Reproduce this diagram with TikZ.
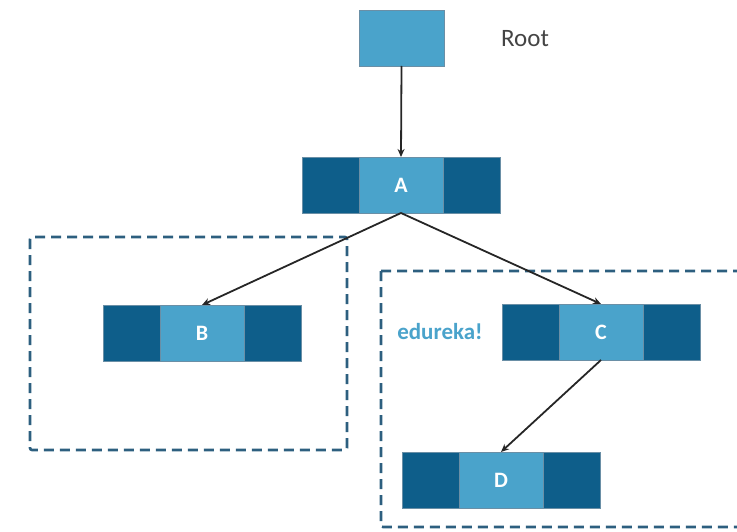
\documentclass[tikz,border=0pt]{standalone}
\usepackage{fontspec}
\setmainfont{Carlito}
\usetikzlibrary{arrows.meta}
\definecolor{cellDark}{HTML}{0E5E8A}
\definecolor{cellLight}{HTML}{4AA3CB}
\definecolor{frameBlue}{HTML}{2D5F7F}
\definecolor{cellEdge}{HTML}{6A8FA6}
\definecolor{rootText}{HTML}{444444}
\tikzset{
  cell/.style={draw=cellEdge, line width=0.6pt, minimum height=56pt, inner sep=0pt, outer sep=0pt},
  side/.style={cell, fill=cellDark, minimum width=57pt},
  mid/.style={cell, fill=cellLight, minimum width=84pt, text=white, font=\fontsize{22}{24}\selectfont\bfseries},
  link/.style={draw=black!85, line width=1.8pt, -{Stealth[length=8pt,width=7pt]}},
  frame/.style={draw=frameBlue, line width=2.6pt, dash pattern=on 10pt off 6pt, rounded corners=2pt}
}
\begin{document}
\begin{tikzpicture}[x=1pt,y=-1pt]
\useasboundingbox (0,0) rectangle (737,532);
% dashed group frames
\path[frame] (30,237) rectangle (347,450);
\path[frame] (381,271) -- (381,527) -- (745,527) (381,271) -- (745,271);
% root
\node[cell, fill=cellLight, minimum width=85pt, minimum height=56pt] (root) at (401.5,38) {};
\node[text=rootText, font=\fontsize{25}{27}\selectfont] (rootlabel) at (525,39) {Root};
% A
\node[mid] (A) at (401,185) {A};
\node[side, anchor=east] (Al) at (A.west) {};
\node[side, anchor=west] (Ar) at (A.east) {};
% B
\node[mid] (B) at (202,333) {B};
\node[side, anchor=east] (Bl) at (B.west) {};
\node[side, anchor=west] (Br) at (B.east) {};
% C
\node[mid] (C) at (601,332) {C};
\node[side, anchor=east] (Cl) at (C.west) {};
\node[side, anchor=west] (Cr) at (C.east) {};
% D
\node[mid] (D) at (501,480) {D};
\node[side, anchor=east] (Dl) at (D.west) {};
\node[side, anchor=west] (Dr) at (D.east) {};
% watermark
\node[text=cellLight, font=\fontsize{23}{25}\selectfont\bfseries] (mark) at (440,332) {edureka!};
% links
\draw[link] (root.south) -- (A.north);
\draw[link] (A.south) -- (B.north);
\draw[link] (A.south) -- (C.north);
\draw[link] (C.south) -- (D.north);
\end{tikzpicture}
\end{document}
